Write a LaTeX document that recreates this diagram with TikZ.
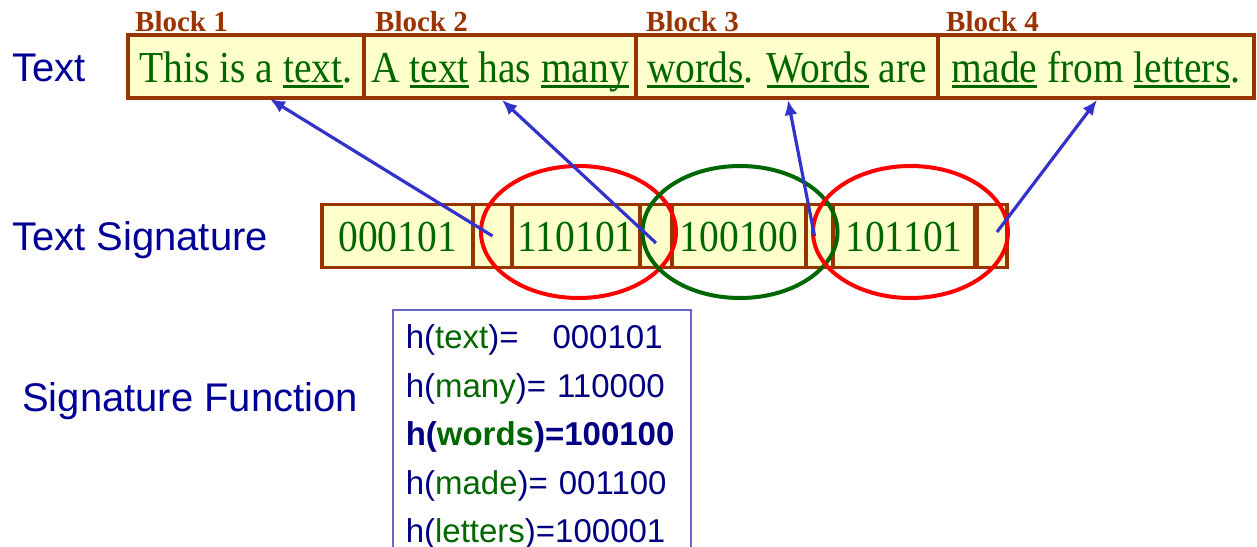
\documentclass[tikz,border=0pt]{standalone}
\usepackage{fontspec}
\setmainfont{Liberation Serif}
\setsansfont{Liberation Sans}
\usepackage{tikz}
\usetikzlibrary{shapes.geometric}
\usetikzlibrary{arrows.meta}

\definecolor{brick}{HTML}{993300}
\definecolor{leaf}{HTML}{006600}
\definecolor{cream}{HTML}{FFFFCC}
\definecolor{ink}{HTML}{000099}
\definecolor{fnblue}{HTML}{000080}
\definecolor{arrowblue}{HTML}{3333CC}
\definecolor{boxblue}{HTML}{6666CC}

\newcommand{\wul}[1]{\setbox0\hbox{#1}\rlap{\rule[-5pt]{\wd0}{2.4pt}}\box0\relax}
\newcommand{\tall}[1]{\scalebox{1}[1.12]{#1}}
\newcommand{\hrow}[2]{h(\textcolor{leaf}{#1})#2}

\tikzset{
    block/.style={draw=brick, fill=cream, line width=3.5pt, inner sep=0pt, outer sep=0pt,
        minimum height=63pt, text=leaf, font=\fontsize{39.5}{39.5}\selectfont,
        text height=42pt, text depth=11pt},
    cell/.style={block, text height=41pt, text depth=11pt},
    blocklabel/.style={anchor=base west, inner sep=0pt, text=brick,
        font=\bfseries\fontsize{29}{29}\selectfont},
    rowname/.style={anchor=base west, inner sep=0pt, text=ink,
        font=\sffamily\fontsize{40}{40}\selectfont},
    ring/.style={ellipse, draw, line width=4pt, inner sep=0pt,
        minimum width=195pt, minimum height=132pt},
    pointer/.style={draw=arrowblue, line width=3.2pt, -{Latex[length=15pt,width=13pt]}},
    fnbox/.style={draw=boxblue, line width=1.5pt, anchor=north west, align=left,
        text width=272pt, inner xsep=13pt, inner ysep=15pt, text=fnblue,
        font=\sffamily\fontsize{33}{48.5}\selectfont}
}

\begin{document}
\begin{tikzpicture}[x=1pt, y=-1pt]
    \useasboundingbox (0,0) rectangle (1257,546);

    \node[rowname] (txtname) at (12,81) {Text};
    \node[rowname] (signame) at (12,250) {Text Signature};
    \node[rowname] (fnname) at (22,411) {Signature Function};

    \node[blocklabel] (lab1) at (135,31) {Block 1};
    \node[blocklabel] (lab2) at (375,31) {Block 2};
    \node[blocklabel] (lab3) at (646,31) {Block 3};
    \node[blocklabel] (lab4) at (946,31) {Block 4};

    \node[block, minimum width=236pt] (blk1) at (246,66.5) {\tall{This is a \wul{text}.}};
    \node[block, minimum width=272pt] (blk2) at (500,66.5) {\tall{A \wul{text} has \wul{many}}};
    \node[block, minimum width=302pt] (blk3) at (787,66.5) {\tall{\wul{words}. \wul{Words} are}};
    \node[block, minimum width=316pt] (blk4) at (1096,66.5) {\tall{\wul{made} from \wul{letters}.}};

    \node[cell, minimum width=151pt] (sig1) at (397.5,236) {\tall{000101}};
    \node[cell, minimum width=39pt] (sig2) at (492.5,236) {};
    \node[cell, minimum width=128pt] (sig3) at (576,236) {\tall{110101}};
    \node[cell, minimum width=32pt] (sig4) at (656,236) {};
    \node[cell, minimum width=134pt] (sig5) at (739,236) {\tall{100100}};
    \node[cell, minimum width=29pt] (sig6) at (820.5,236) {};
    \node[cell, minimum width=142pt] (sig7) at (904,236) {\tall{101101}};
    \node[cell, minimum width=30pt] (sig8) at (992,236) {};

    \node[ring, draw=red] (ring1) at (578.5,232) {};
    \node[ring, draw=leaf] (ring2) at (740,232) {};
    \node[ring, draw=red] (ring3) at (910.5,232) {};

    \coordinate (tip1) at (270,99);
    \coordinate (tip2) at (502,100);
    \coordinate (tip3) at (788,100);
    \coordinate (tip4) at (1097,100);

    \draw[pointer] (sig2.center) -- (tip1);
    \draw[pointer] ([yshift=-7pt]sig4.center) -- (tip2);
    \draw[pointer] ([xshift=-6pt]sig6.center) -- (tip3);
    \draw[pointer] ([xshift=5pt,yshift=4pt]sig8.center) -- (tip4);

    \node[fnbox] (fn) at (392,309) {\hrow{text}{=\hspace{34pt}000101}\\
        \hrow{many}{= 110000}\\
        \textbf{\hrow{words}{=100100}}\\
        \hrow{made}{= 001100}\\
        \hrow{letters}{=100001}};

\end{tikzpicture}
\end{document}
